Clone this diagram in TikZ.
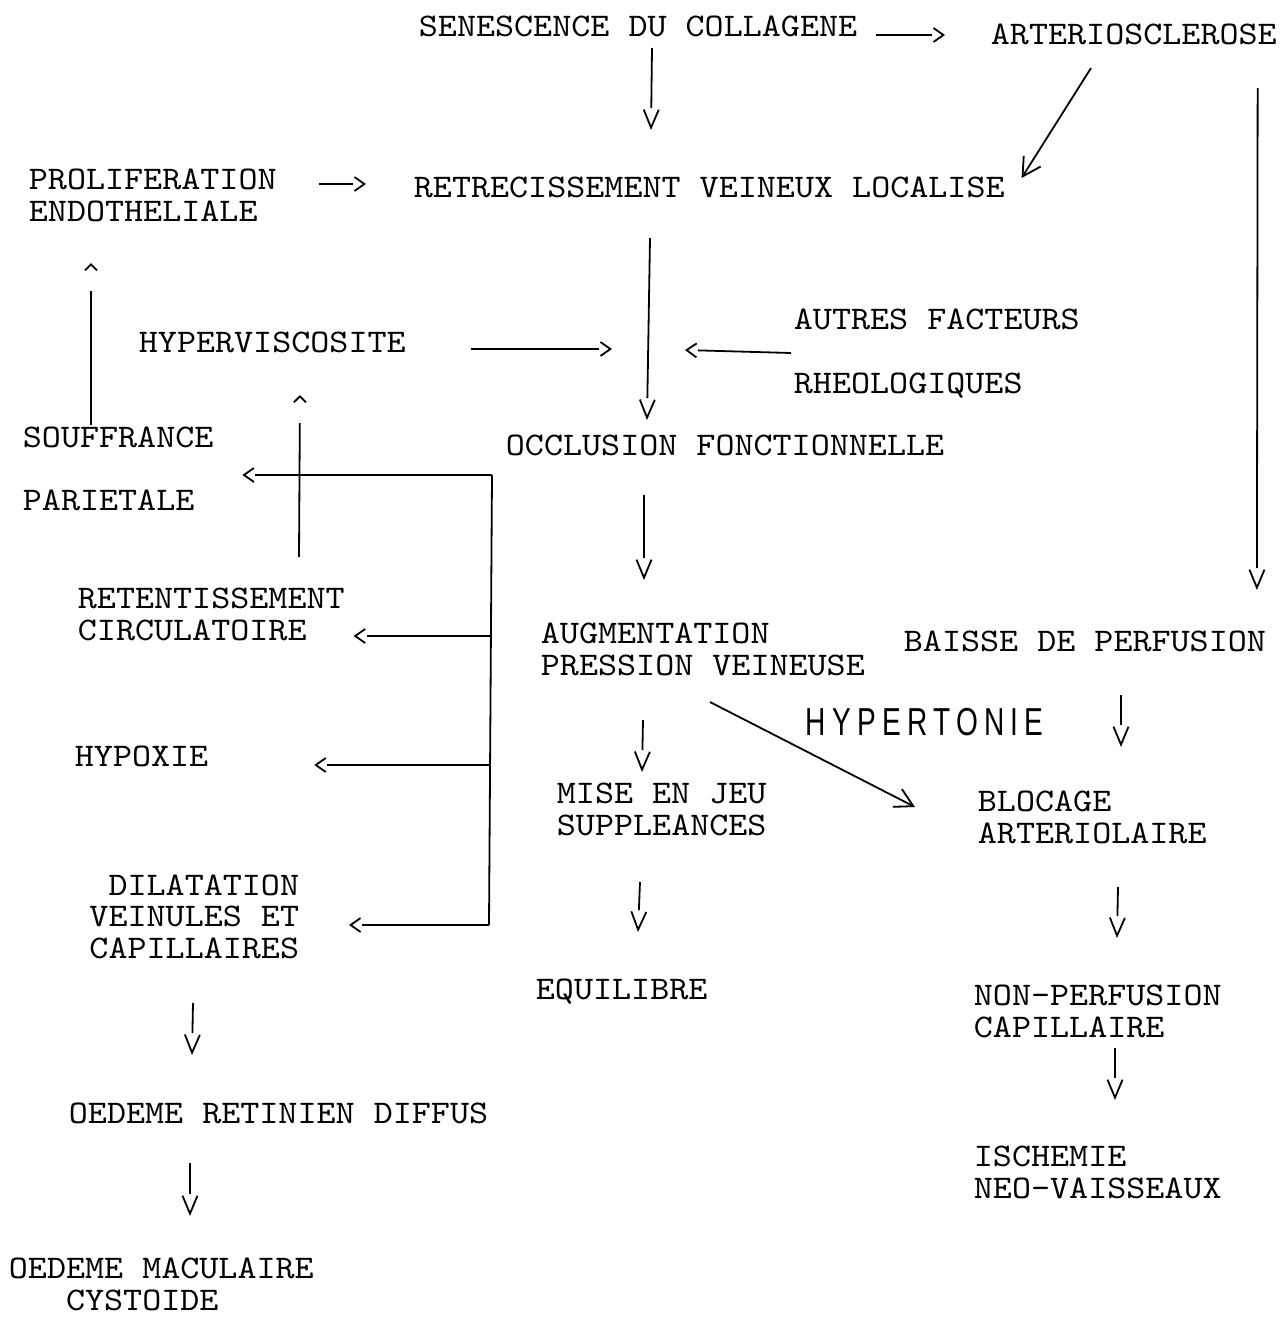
\documentclass[tikz,border=0pt]{standalone}
\usepackage{fontspec}
\usetikzlibrary{arrows.meta,decorations.markings}
\newfontfamily\tw{lmmono10-regular.otf}[FakeStretch=1.1]
\newfontfamily\hand[FakeStretch=0.72,LetterSpace=16]{Liberation Sans}

\tikzset{
  txt/.style={font=\tw\fontsize{16.5}{15.75}\selectfont, inner sep=0pt, anchor=base west, align=left},
  tipat/.style 2 args={shorten >=#1, postaction={decorate},
    decoration={markings, mark=at position 1 with {\arrow{#2}}}},
  vtip/.style={tipat={11pt}{Straight Barb[length=9pt,width=7.5pt]}},
  htip/.style={tipat={6.5pt}{Straight Barb[length=5pt,width=7pt]}},
  ctip/.style={tipat={14pt}{Straight Barb[length=3pt,width=6pt]}},
  handtip/.style={-{Straight Barb[length=9pt,width=10pt]}},
}

\begin{document}
\begin{tikzpicture}[x=0.5pt,y=-0.5pt,line width=0.9pt]
\useasboundingbox (0,0) rectangle (1281,1318);

\node[txt] (sen) at (418,36) {SENESCENCE DU COLLAGENE};
\node[txt] (art) at (990,44) {ARTERIOSCLEROSE};
\node[txt] (prol) at (28,221) {PROLIFERATION\\ENDOTHELIALE};
\node[txt] (ret) at (413,197) {RETRECISSEMENT VEINEUX LOCALISE};
\node[txt] (hyp) at (138,352) {HYPERVISCOSITE};
\node[txt] (autres) at (793,393) {AUTRES FACTEURS\\[16pt]RHEOLOGIQUES};
\node[txt] (souf) at (22,510) {SOUFFRANCE\\[15.75pt]PARIETALE};
\node[txt] (occ) at (505,455) {OCCLUSION FONCTIONNELLE};
\node[txt] (reten) at (77,640) {RETENTISSEMENT\\CIRCULATOIRE};
\node[txt] (aug) at (540,675) {AUGMENTATION\\PRESSION VEINEUSE};
\node[txt] (baisse) at (903,651) {BAISSE DE PERFUSION};
\node[txt] (hypox) at (74,766) {HYPOXIE};
\node[inner sep=0pt, anchor=base west, font=\hand\fontsize{19.5}{20}\selectfont] (hton) at (805,735) {HYPERTONIE};
\node[txt] (mise) at (556,835) {MISE EN JEU\\SUPPLEANCES};
\node[txt] (bloc) at (977,843) {BLOCAGE\\ARTERIOLAIRE};
\node[txt, anchor=base east, align=right] (dil) at (300,958) {DILATATION\\VEINULES ET\\CAPILLAIRES};
\node[txt] (equ) at (535,999) {EQUILIBRE};
\node[txt] (nonp) at (973,1037) {NON-PERFUSION\\CAPILLAIRE};
\node[txt] (oedr) at (68,1123) {OEDEME RETINIEN DIFFUS};
\node[txt] (isch) at (973,1198) {ISCHEMIE\\NEO-VAISSEAUX};
\node[txt] (oedm) at (8,1310) {OEDEME MACULAIRE\\\phantom{OED}CYSTOIDE};

\draw[htip] ([shift={(18,-1)}]sen.base east) -- ([shift={(-45,-9)}]art.base west);
\draw[vtip] ([shift={(234,12)}]sen.base west) -- ([shift={(238,-67)}]ret.base west);
\draw[handtip] ([shift={(101,24)}]art.base west) -- ([shift={(16,-19)}]ret.base east);
\draw[vtip] ([shift={(-20,44)}]art.base east) -- ([shift={(-10,-61)}]baisse.base east);

\draw[htip] ([shift={(41,-37)}]prol.base east) -- ([shift={(-47,-13)}]ret.base west);
\draw[ctip] ([shift={(69,-85)}]souf.base west) -- ([shift={(63,42)}]prol.base west);

\draw[htip] ([shift={(64,-3)}]hyp.base east) -- ([shift={(107,-106)}]occ.base west);
\draw[htip] ([shift={(-2,-40)}]autres.base west) -- ([shift={(180,-105)}]occ.base west);
\draw[vtip] ([shift={(237,41)}]ret.base west) -- ([shift={(142,-35)}]occ.base west);

\draw[vtip] ([shift={(139,40)}]occ.base west) -- ([shift={(104,-95)}]aug.base west);
\draw[vtip] ([shift={(103,45)}]aug.base west) -- ([shift={(86,-63)}]mise.base west);
\draw[handtip] ([shift={(170,27)}]aug.base west) -- ([shift={(-62,-36)}]bloc.base west);
\draw[vtip] ([shift={(218,44)}]baisse.base west) -- ([shift={(144,-96)}]bloc.base west);

\draw[vtip] ([shift={(84,47)}]mise.base west) -- ([shift={(103,-67)}]equ.base west);
\draw[vtip] ([shift={(141,44)}]bloc.base west) -- ([shift={(144,-99)}]nonp.base west);
\draw[vtip] ([shift={(142,11)}]nonp.base west) -- ([shift={(142,-98)}]isch.base west);
\draw[vtip] ([shift={(-107,45)}]dil.base east) -- ([shift={(124,-68)}]oedr.base west);
\draw[vtip] ([shift={(122,40)}]oedr.base west) -- ([shift={(182,-94)}]oedm.base west);
\draw[ctip] ([shift={(222,-83)}]reten.base west) -- ([shift={(162,43)}]hyp.base west);

% bus towards the left column
\coordinate (b1) at (492,475);
\coordinate (b2) at (491,636);
\coordinate (b3) at (490,765);
\coordinate (b4) at (489,925);
\draw (b1) -- (b4);
\draw[htip] (b1) -- ([shift={(28,-35)}]souf.base east);
\draw[htip] (b2) -- ([shift={(8,-4)}]reten.base east);
\draw[htip] (b3) -- ([shift={(105,-1)}]hypox.base east);
\draw[htip] (b4) -- ([shift={(49,-33)}]dil.base east);

\end{tikzpicture}
\end{document}
